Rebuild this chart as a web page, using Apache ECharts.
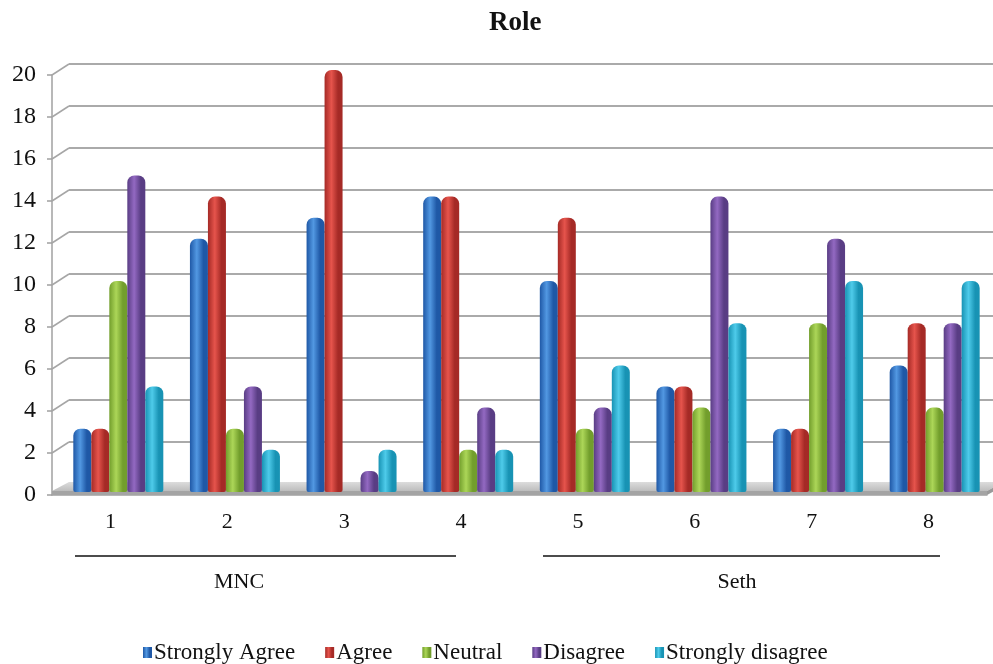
<!DOCTYPE html>
<html>
<head>
<meta charset="utf-8">
<title>Role</title>
<script src="https://cdn.jsdelivr.net/npm/echarts@6/dist/echarts.min.js"></script>
<style>
  html, body { margin: 0; padding: 0; background: #ffffff; }
  #chart { width: 993px; height: 664px; }
</style>
</head>
<body>
<div id="chart"></div>
<script>
// Survey responses per question, grouped by firm type
const categories = ['1', '2', '3', '4', '5', '6', '7', '8'];
const seriesNames = ['Strongly Agree', 'Agree', 'Neutral', 'Disagree', 'Strongly disagree'];
const stronglyAgree = [3, 12, 13, 14, 10, 5, 3, 6];
const agree = [3, 14, 20, 14, 13, 5, 3, 8];
const neutral = [10, 3, 0, 2, 3, 4, 8, 4];
const disagree = [15, 5, 1, 4, 4, 14, 12, 8];
const stronglyDisagree = [5, 2, 2, 2, 6, 8, 10, 10];
const yTicks = [0, 2, 4, 6, 8, 10, 12, 14, 16, 18, 20];
const groupLabels = ['MNC', 'Seth'];

const seriesValues = [stronglyAgree, agree, neutral, disagree, stronglyDisagree];
// [edge shade, highlight] for each cylinder colour
const shades = [
  ['#1f58a6', '#5298e2'],
  ['#a52a26', '#e6544c'],
  ['#729e2c', '#acd658'],
  ['#593d84', '#9369c2'],
  ['#1893b4', '#4ecbea']
];

function cylinder(c) {
  return new echarts.graphic.LinearGradient(0, 0, 1, 0, [
    { offset: 0, color: c[0] },
    { offset: 0.38, color: c[1] },
    { offset: 0.75, color: c[0] },
    { offset: 1, color: c[0] }
  ]);
}

const FONT = '"Liberation Serif", "Times New Roman", serif';
const DEPTH_X = 17, DEPTH_Y = 11;

const chart = echarts.init(document.getElementById('chart'), null, { renderer: 'canvas' });

const barSeries = seriesNames.map((name, i) => ({
  name: name,
  type: 'bar',
  xAxisIndex: 2,
  yAxisIndex: 2,
  data: seriesValues[i],
  barWidth: 18,
  barGap: '0%',
  barCategoryGap: '22%',
  z: 5,
  itemStyle: {
    color: cylinder(shades[i]),
    borderRadius: [7, 7, 2, 2]
  },
  emphasis: { disabled: true }
}));

// Floor slab and the diagonal depth connectors of the value axis
const frameSeries = {
  type: 'custom',
  xAxisIndex: 0,
  yAxisIndex: 0,
  data: [[0, 0]],
  silent: true,
  z: 2,
  renderItem: function (params, api) {
    const cs = params.coordSys;
    const y0 = api.coord([0, 0])[1];
    const left = cs.x, right = cs.x + cs.width;
    const children = [];
    // floor front face
    children.push({
      type: 'polygon',
      shape: { points: [[left, y0 - 4], [right, y0 - 4], [right, y0], [left, y0]] },
      style: { fill: '#a4a4a4' }
    });
    // floor top face
    children.push({
      type: 'polygon',
      shape: { points: [[left, y0 - 4], [left + DEPTH_X, y0 - 4 - DEPTH_Y + 2], [right + DEPTH_X, y0 - 4 - DEPTH_Y + 2], [right, y0 - 4]] },
      style: {
        fill: new echarts.graphic.LinearGradient(0, 0, 0, 1, [
          { offset: 0, color: '#dcdcdc' },
          { offset: 1, color: '#bdbdbd' }
        ])
      }
    });
    // floor right edge
    children.push({
      type: 'polygon',
      shape: { points: [[right, y0 - 4], [right + DEPTH_X, y0 - 4 - DEPTH_Y + 2], [right + DEPTH_X, y0 - DEPTH_Y + 2], [right, y0]] },
      style: { fill: '#9a9a9a' }
    });
    yTicks.forEach(v => {
      if (v === 0) return;
      const y = api.coord([0, v])[1];
      children.push({
        type: 'line',
        shape: { x1: left, y1: y, x2: left + DEPTH_X, y2: y - DEPTH_Y },
        style: { stroke: '#a6a6a6', lineWidth: 1.5 }
      });
    });
    return { type: 'group', children: children };
  }
};

const option = {
  backgroundColor: '#ffffff',
  animation: false,
  title: {
    text: 'Role',
    left: 484,
    top: 5,
    textStyle: { fontFamily: FONT, fontSize: 27, fontWeight: 'bold', color: '#111111' }
  },
  legend: {
    data: seriesNames,
    left: 138,
    top: 636,
    itemWidth: 9,
    itemHeight: 11,
    itemGap: 30,
    icon: 'rect',
    textStyle: { fontFamily: FONT, fontSize: 23, color: '#111111', padding: [0, 0, 0, -3] }
  },
  grid: [
    // front plane: visible axes
    { left: 52, right: 6, top: 75, bottom: 169 },
    // back wall: gridlines
    { left: 69, right: -12, top: 64, bottom: 180 },
    // mid-depth plane: cylinders
    { left: 60, width: 934, top: 70, bottom: 172 }
  ],
  xAxis: [
    {
      gridIndex: 0, type: 'category', data: categories, boundaryGap: true,
      axisLine: { lineStyle: { color: '#a0a0a0', width: 1.5 } },
      axisTick: { length: 9, lineStyle: { color: '#a0a0a0', width: 1.5 } },
      axisLabel: { fontFamily: FONT, fontSize: 22, color: '#111111', margin: 16 },
      splitLine: { show: false }
    },
    { gridIndex: 1, type: 'category', data: categories, show: false },
    { gridIndex: 2, type: 'category', data: categories, show: false }
  ],
  yAxis: [
    {
      gridIndex: 0, type: 'value', min: 0, max: 20, interval: 2,
      axisLine: { show: true, lineStyle: { color: '#a0a0a0', width: 1.5 } },
      axisTick: { show: true, length: 5, lineStyle: { color: '#a0a0a0', width: 1.5 } },
      axisLabel: { fontFamily: FONT, fontSize: 24, color: '#111111', margin: 16 },
      splitLine: { show: false }
    },
    {
      gridIndex: 1, type: 'value', min: 0, max: 20, interval: 2,
      axisLine: { show: false }, axisTick: { show: false }, axisLabel: { show: false },
      splitLine: { show: true, lineStyle: { color: '#aaaaaa', width: 2 } }
    },
    {
      gridIndex: 2, type: 'value', min: 0, max: 20, interval: 2, show: false,
      splitLine: { show: false }
    }
  ],
  graphic: [
    { type: 'line', shape: { x1: 75, y1: 556, x2: 456, y2: 556 }, style: { stroke: '#111111', lineWidth: 1.5 } },
    { type: 'line', shape: { x1: 543, y1: 556, x2: 940, y2: 556 }, style: { stroke: '#111111', lineWidth: 1.5 } },
    { type: 'text', x: 239, y: 582, style: { text: groupLabels[0], font: '22px ' + FONT, fill: '#111111', align: 'center', verticalAlign: 'middle' } },
    { type: 'text', x: 737, y: 582, style: { text: groupLabels[1], font: '22px ' + FONT, fill: '#111111', align: 'center', verticalAlign: 'middle' } }
  ],
  series: [frameSeries].concat(barSeries)
};

chart.setOption(option);
</script>
</body>
</html>
